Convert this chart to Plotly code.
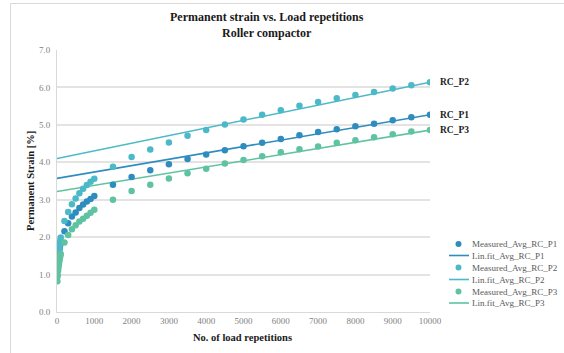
import plotly.graph_objects as go

# Load repetitions at which the permanent strain was recorded
repetitions = [10, 20, 30, 40, 50, 60, 70, 80, 90, 100,
               200, 300, 400, 500, 600, 700, 800, 900, 1000,
               1500, 2000, 2500, 3000, 3500, 4000, 4500, 5000, 5500,
               6000, 6500, 7000, 7500, 8000, 8500, 9000, 9500, 10000]

# Measured average permanent strain [%]
strain_p1 = [1.10, 1.28, 1.40, 1.50, 1.58, 1.65, 1.71, 1.77, 1.82, 1.87,
             2.16, 2.37, 2.55, 2.66, 2.78, 2.87, 2.95, 3.02, 3.10,
             3.40, 3.61, 3.79, 3.95, 4.09, 4.21, 4.32, 4.43, 4.52,
             4.62, 4.72, 4.81, 4.88, 4.96, 5.03, 5.12, 5.20, 5.27]
strain_p2 = [0.95, 1.15, 1.33, 1.47, 1.58, 1.68, 1.77, 1.85, 1.92, 1.99,
             2.43, 2.67, 2.88, 3.03, 3.17, 3.29, 3.39, 3.48, 3.56,
             3.88, 4.14, 4.34, 4.53, 4.71, 4.86, 5.01, 5.14, 5.27,
             5.39, 5.51, 5.61, 5.71, 5.80, 5.88, 5.97, 6.06, 6.14]
strain_p3 = [0.82, 0.98, 1.10, 1.19, 1.27, 1.34, 1.40, 1.46, 1.51, 1.55,
             1.86, 2.06, 2.21, 2.32, 2.42, 2.49, 2.57, 2.65, 2.73,
             3.00, 3.23, 3.40, 3.57, 3.71, 3.83, 3.97, 4.06, 4.16,
             4.27, 4.35, 4.42, 4.52, 4.59, 4.67, 4.75, 4.82, 4.86]

# Linear fit end points (x = 0 and x = 10000)
fit_x = [0, 10000]
fit_p1 = [3.57, 5.27]
fit_p2 = [4.10, 6.14]
fit_p3 = [3.22, 4.86]

series_labels = ["RC_P1", "RC_P2", "RC_P3"]
measured_names = ["Measured_Avg_RC_P1", "Measured_Avg_RC_P2", "Measured_Avg_RC_P3"]
fit_names = ["Lin.fit_Avg_RC_P1", "Lin.fit_Avg_RC_P2", "Lin.fit_Avg_RC_P3"]

y_ticks = [0, 1, 2, 3, 4, 5, 6, 7]
x_ticks = [0, 1000, 2000, 3000, 4000, 5000, 6000, 7000, 8000, 9000, 10000]

colors = ["#2E8CBF", "#4CB9C9", "#5FC3A2"]
serif = "Liberation Serif"

fig = go.Figure()

measured = [strain_p1, strain_p2, strain_p3]
fits = [fit_p1, fit_p2, fit_p3]

for i in range(3):
    fig.add_trace(go.Scatter(
        x=fit_x, y=fits[i], mode="lines", name=fit_names[i],
        line=dict(color=colors[i], width=1.6), showlegend=False,
        hoverinfo="skip"))
for i in range(3):
    fig.add_trace(go.Scatter(
        x=repetitions, y=measured[i], mode="markers", name=measured_names[i],
        marker=dict(color=colors[i], size=6.5, line=dict(width=0)),
        showlegend=False))

# Plot area geometry (pixels) for placing labels around the axes
W, H = 564, 353
ml, mr, mt, mb = 57, 134, 50, 41
pw, ph = W - ml - mr, H - mt - mb


def px(xp):
    return (xp - ml) / pw


def py(yp):
    return (H - mb - yp) / ph


annotations = []
shapes = []

# Series labels at the last measured point
for i in range(3):
    annotations.append(dict(
        x=repetitions[-1], y=measured[i][-1], xref="x", yref="y",
        text=series_labels[i], showarrow=False, xanchor="left",
        yanchor="middle", xshift=8,
        font=dict(family=serif, size=9.5, color="#222222", weight="bold")))

# Title
annotations.append(dict(
    x=px(267), y=py(25), xref="paper", yref="paper",
    text="<b>Permanent strain vs. Load repetitions<br>Roller compactor</b>",
    showarrow=False, xanchor="center", yanchor="middle",
    font=dict(family=serif, size=12, color="#1a1a1a")))

# Axis titles
annotations.append(dict(
    x=px(242), y=py(337), xref="paper", yref="paper",
    text="<b>No. of load repetitions</b>", showarrow=False,
    xanchor="center", yanchor="middle",
    font=dict(family=serif, size=10.5, color="#1a1a1a")))
annotations.append(dict(
    x=px(30), y=py(181), xref="paper", yref="paper",
    text="<b>Permanent Strain [%]</b>", showarrow=False, textangle=-90,
    xanchor="center", yanchor="middle",
    font=dict(family=serif, size=10.5, color="#1a1a1a")))

# Legend drawn as shapes and text
legend_y = [244, 255.5, 267.5, 279.5, 291.5, 303]
for i in range(3):
    ym = legend_y[2 * i]
    yl = legend_y[2 * i + 1]
    shapes.append(dict(
        type="circle", xref="paper", yref="paper",
        x0=px(455.5), x1=px(461.5), y0=py(ym + 3), y1=py(ym - 3),
        fillcolor=colors[i], line=dict(width=0)))
    shapes.append(dict(
        type="line", xref="paper", yref="paper",
        x0=px(449), x1=px(469), y0=py(yl), y1=py(yl),
        line=dict(color=colors[i], width=1.6)))
    annotations.append(dict(
        x=px(470), y=py(ym), xref="paper", yref="paper",
        text=measured_names[i], showarrow=False, xanchor="left",
        yanchor="middle", font=dict(family=serif, size=9, color="#595959")))
    annotations.append(dict(
        x=px(470), y=py(yl), xref="paper", yref="paper",
        text=fit_names[i], showarrow=False, xanchor="left",
        yanchor="middle", font=dict(family=serif, size=9, color="#595959")))

# Chart frame
shapes.append(dict(
    type="rect", xref="paper", yref="paper",
    x0=px(10.5), x1=px(600), y0=py(3.5), y1=py(400),
    line=dict(color="#d9d9d9", width=1), fillcolor="rgba(0,0,0,0)",
    layer="below"))

fig.update_layout(
    width=W, height=H,
    margin=dict(l=ml, r=mr, t=mt, b=mb),
    paper_bgcolor="white", plot_bgcolor="white",
    showlegend=False,
    annotations=annotations, shapes=shapes,
    xaxis=dict(
        range=[0, 10000], tickvals=x_ticks,
        ticktext=[str(v) for v in x_ticks],
        showgrid=False, zeroline=False, showline=True,
        linecolor="#d9d9d9", linewidth=1, ticks="",
        tickfont=dict(family=serif, size=9, color="#7f7f7f")),
    yaxis=dict(
        range=[0, 7], tickvals=y_ticks,
        ticktext=["%.1f" % v for v in y_ticks],
        showgrid=True, gridcolor="#e3e3e3", gridwidth=1.5,
        zeroline=False, showline=True, linecolor="#d9d9d9", linewidth=1,
        ticks="", ticklabelstandoff=4,
        tickfont=dict(family=serif, size=9, color="#7f7f7f")),
)

fig.write_html("out.html")
